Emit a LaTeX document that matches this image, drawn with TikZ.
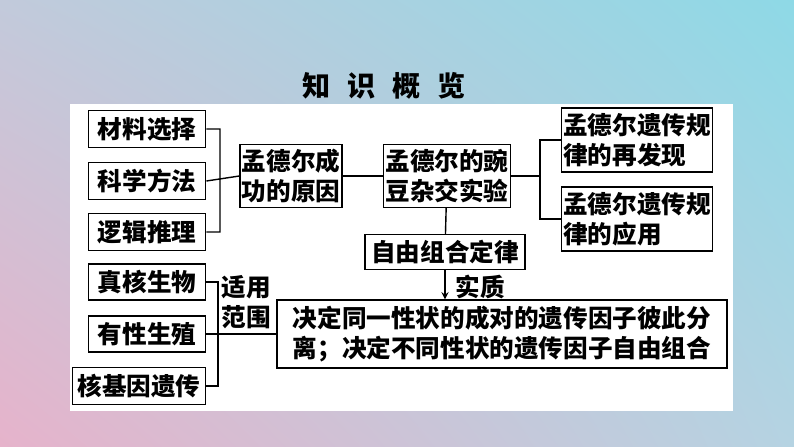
\documentclass[tikz,border=0pt]{standalone}
\usepackage{fontspec}
\setmainfont{Noto Sans CJK SC}
\usetikzlibrary{positioning,shadings}
\definecolor{bgpink}{HTML}{E6B3CB}
\definecolor{bgcyan}{HTML}{8ED9E6}
\definecolor{bgmid}{HTML}{C2CADB}
\definecolor{bglow}{HTML}{B5D3E2}
\tikzset{
  box/.style={rectangle, draw, thick, fill=white, inner sep=1pt, align=left,
    font=\fontsize{14pt}{17pt}\selectfont\bfseries},
  link/.style={thick},
}
\begin{document}
\begin{tikzpicture}[x=0.02cm, y=-0.02cm]
  % Background
  \shade[upper left=bgmid, upper right=bgcyan, lower left=bgpink, lower right=bglow] (0,0) rectangle (794,446);
  \fill[white] (70,104) rectangle (733,411);
  \useasboundingbox (0,0) rectangle (794,446);
  % Header
  \node (title) at (384,86) {\fontsize{16pt}{18pt}\selectfont\bfseries 知\hspace{0.6em}识\hspace{0.6em}概\hspace{0.6em}览};
  % Nodes
  \node (cl) [box, minimum width=2.35cm, minimum height=0.74cm] at (147,129) {材料选择};
  \node (ff) [box, minimum width=2.35cm, minimum height=0.74cm] at (147,181) {科学方法};
  \node (tl) [box, minimum width=2.35cm, minimum height=0.74cm] at (147,232) {逻辑推理};
  \node (yy) [box, minimum height=1.26cm] at (291,176) {孟德尔成\\功的原因};
  \node (sy) [box, minimum height=1.26cm] at (447,176) {孟德尔的豌\\豆杂交实验};
  \node (fx) [box, minimum height=1.28cm] at (637,140) {孟德尔遗传规\\律的再发现};
  \node (yyong) [box, minimum height=1.28cm] at (637,219) {孟德尔遗传规\\律的应用};
  \node (zy) [box, minimum width=3.2cm, minimum height=0.7cm, align=center] at (445,252) {自由组合定律};
  \node (jd) [box, minimum width=9cm, minimum height=1.36cm] at (502,334) {决定同一性状的成对的遗传因子彼此分\\离；决定不同性状的遗传因子自由组合};
  \node (zh) [box, minimum width=2.35cm, minimum height=0.72cm] at (147,282) {真核生物};
  \node (yx) [box, minimum width=2.35cm, minimum height=0.72cm] at (147,334) {有性生殖};
  \node (hj) [box, minimum width=2.66cm, minimum height=0.74cm] at (139,386) {核基因遗传};
  % Labels
  \node (fw) [font=\fontsize{14pt}{17pt}\selectfont\bfseries, align=center] at (246,302) {适用\\范围};
  \node (sz) [font=\fontsize{14pt}{17pt}\selectfont\bfseries] at (480,287) {实质};
  % Arrows
  \coordinate (b1) at (220,176);
  \draw[link] (cl.east) -| (b1) (tl.east) -| (b1) (ff.east) -- (yy.west);
  \draw[link] (yy) -- (sy);
  \coordinate (b2) at (540,176);
  \draw[link] (fx.west) -| (b2) (yyong.west) -| (b2) (sy.east) -- (b2);
  \draw[link] (sy) -- (zy);
  \draw[->, >=stealth, thick] (zy) -- (jd.north -| zy);
  \coordinate (b3) at (218,334);
  \draw[link] (zh.east) -| (b3) (hj.east) -| (b3) (yx.east) -- (jd.west);
\end{tikzpicture}
\end{document}
